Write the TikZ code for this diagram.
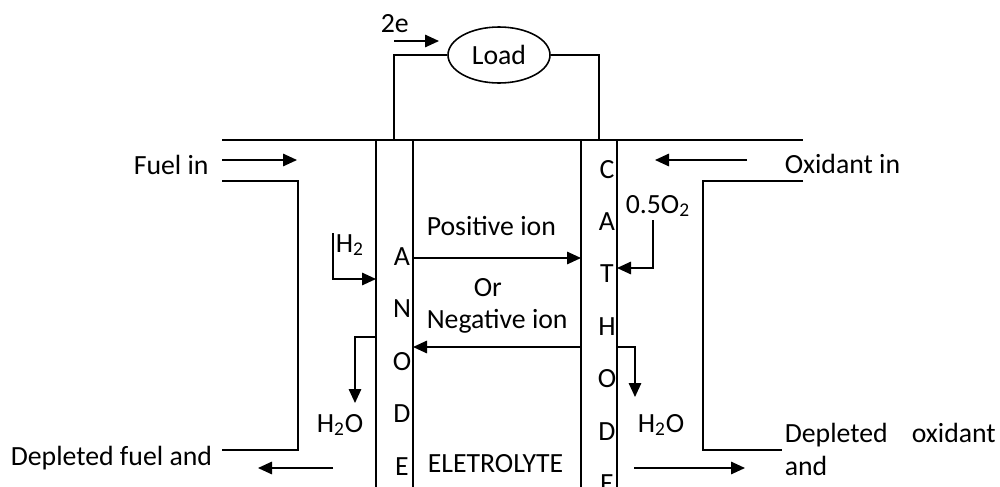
\documentclass[tikz,border=0pt]{standalone}
\usepackage{fontspec}
\setmainfont{Carlito}
\usetikzlibrary{arrows.meta,positioning,shapes.geometric}

\begin{document}
\begin{tikzpicture}[x=0.2mm, y=-0.2mm, line width=0.9pt, >={Triangle[length=2.8mm,width=2.5mm]},
  every node/.style={font=\fontsize{15.8}{19}\selectfont, inner sep=0pt},
  lbl/.style={anchor=base west}, letter/.style={anchor=base}]
\useasboundingbox (0,0) rectangle (1000,487); \clip (0,0) rectangle (1000,487);
% external circuit
\node[draw, ellipse, minimum width=20.4mm, minimum height=11.2mm] (load) at (499,55) {Load};
\coordinate (aw) at (394,140); \coordinate (cw) at (599,140);
\draw (load.west) -| (aw); \draw (load.east) -| (cw);
\node[lbl] (twoe) at (380,32) {2e};
\coordinate (e1) at (394,41); \coordinate (e2) at (439,41); \draw[->] (e1)--(e2);
% cell walls and electrodes
\draw (222,140) -- (803,140);
\draw (376,500) |- (413,140) -- (413,500);
\draw (581,500) |- (617,140) -- (617,500);
% fuel side
\node[lbl] (fuelin) at (133,174) {Fuel in};
\coordinate (f1) at (222,160); \coordinate (f2) at (297,160); \draw[->] (f1)--(f2);
\draw (222,181) -| (298,450) -- (222,450);
\node[lbl] (depfuel) at (10,465) {Depleted fuel and};
\coordinate (d1) at (333,468); \coordinate (d2) at (258,468); \draw[->] (d1)--(d2);
% oxidant side
\node[lbl] (oxin) at (784,173) {Oxidant in};
\coordinate (o1) at (747,160); \coordinate (o2) at (655,160); \draw[->] (o1)--(o2);
\draw (803,181) -| (703,450) -- (782,450);
\node[lbl, text width=42.2mm, align=justify] (depox) at (784,442) {Depleted oxidant and};
\coordinate (p1) at (634,468); \coordinate (p2) at (745,468); \draw[->] (p1)--(p2);
% reactants and products
\node[lbl] (hydro) at (335,252) {H\textsubscript{2}};
\coordinate (h1) at (333,233); \coordinate (h2) at (376,279); \draw[->] (h1) |- (h2);
\node[lbl] (wateran) at (316,432) {H\textsubscript{2}O};
\coordinate (w1) at (376,337); \coordinate (w2) at (355,403); \draw[->] (w1) -| (w2);
\node[lbl] (oxy) at (625,213) {0.5O\textsubscript{2}};
\coordinate (x1) at (653,220); \coordinate (x2) at (617,268); \draw[->] (x1) |- (x2);
\node[lbl] (watercat) at (637,432) {H\textsubscript{2}O};
\coordinate (v1) at (617,347); \coordinate (v2) at (635,397); \draw[->] (v1) -| (v2);
% ions through electrolyte
\node[lbl] (posion) at (426,235) {Positive ion};
\node[lbl] (orlbl) at (473,296) {Or};
\node[lbl] (negion) at (426,328) {Negative ion};
\coordinate (i1) at (413,258); \coordinate (i2) at (581,258); \draw[->] (i1)--(i2);
\coordinate (n1) at (581,347); \coordinate (n2) at (413,347); \draw[->] (n1)--(n2);
\node[lbl] (electro) at (427,472) {ELETROLYTE};
\foreach \l [count=\i from 0] in {A,N,O,D,E} \node[letter] at (402,265+52.5*\i) {\l};
\foreach \l [count=\i from 0] in {C,A,T,H,O,D,E} \node[letter] at (607,178+52.4*\i) {\l};
\end{tikzpicture}
\end{document}
